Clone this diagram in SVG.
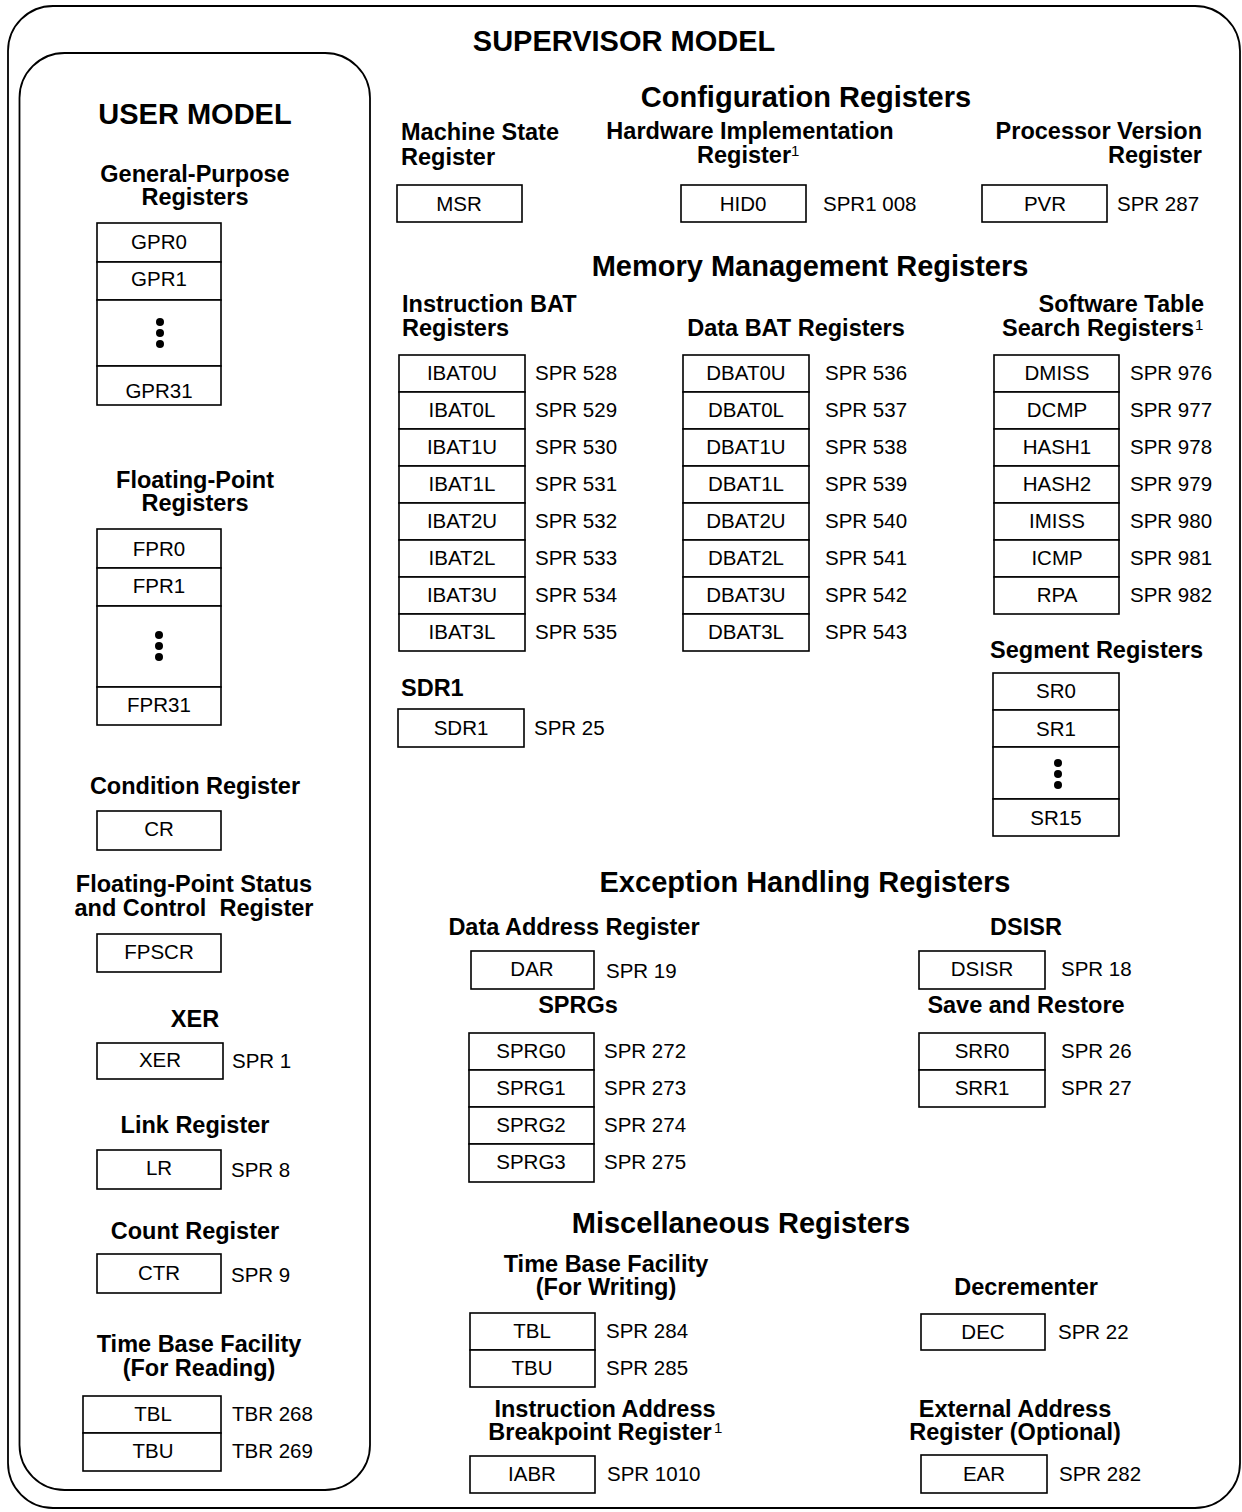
<svg xmlns="http://www.w3.org/2000/svg" width="1242" height="1512" viewBox="0 0 1242 1512">
<style>
text{font-family:"Liberation Sans",Arial,sans-serif;fill:#000}
.h1{font-size:29px;font-weight:bold;text-anchor:middle}
.h2{font-size:23.5px;font-weight:bold}
.c{text-anchor:middle}
.e{text-anchor:end}
.t{font-size:20.5px}
.tc{font-size:20.5px;text-anchor:middle}
.sup{font-size:15px}
.box{fill:#fff;stroke:#000;stroke-width:1.6}
.frame{fill:none;stroke:#000;stroke-width:1.8}
.pre{white-space:pre}
</style>
<defs>
<g id="dots"><circle cx="0" cy="-11" r="4"/><circle cx="0" cy="0" r="4"/><circle cx="0" cy="11" r="4"/></g>
</defs>
<rect width="1242" height="1512" fill="#fff"/>
<rect class="frame" x="8" y="6" width="1232" height="1502" rx="45" ry="45"/>
<rect class="frame" x="19.5" y="53" width="350.5" height="1437" rx="45" ry="45"/>
<text class="h1" x="624" y="51">SUPERVISOR MODEL</text>
<text class="h1" x="195" y="124">USER MODEL</text>
<g id="connectors"/>

<!-- USER MODEL -->
<g id="gpr">
<text class="h2 c" x="195" y="182">General-Purpose</text>
<text class="h2 c" x="195" y="205">Registers</text>
<rect class="box" x="97" y="223" width="124" height="39"/>
<rect class="box" x="97" y="262" width="124" height="38"/>
<rect class="box" x="97" y="300" width="124" height="66"/>
<rect class="box" x="97" y="366" width="124" height="39"/>
<text class="tc" x="159" y="249">GPR0</text>
<text class="tc" x="159" y="286">GPR1</text>
<use href="#dots" x="160" y="333"/>
<text class="tc" x="159" y="398">GPR31</text>
</g>
<g id="fpr">
<text class="h2 c" x="195" y="488">Floating-Point</text>
<text class="h2 c" x="195" y="511">Registers</text>
<rect class="box" x="97" y="529" width="124" height="39"/>
<rect class="box" x="97" y="568" width="124" height="38"/>
<rect class="box" x="97" y="606" width="124" height="81"/>
<rect class="box" x="97" y="687" width="124" height="38"/>
<text class="tc" x="159" y="556">FPR0</text>
<text class="tc" x="159" y="593">FPR1</text>
<use href="#dots" x="159" y="646"/>
<text class="tc" x="159" y="712">FPR31</text>
</g>
<g id="cr">
<text class="h2 c" x="195" y="794">Condition Register</text>
<rect class="box" x="97" y="811" width="124" height="39"/>
<text class="tc" x="159" y="836">CR</text>
</g>
<g id="fpscr">
<text class="h2 c" x="194" y="892">Floating-Point Status</text>
<text class="h2 c pre" x="194" y="916">and Control  Register</text>
<rect class="box" x="97" y="934" width="124" height="38"/>
<text class="tc" x="159" y="959">FPSCR</text>
</g>
<g id="xer">
<text class="h2 c" x="195" y="1027">XER</text>
<rect class="box" x="97" y="1043" width="126" height="36"/>
<text class="tc" x="160" y="1067">XER</text>
<text class="t" x="232" y="1068">SPR 1</text>
</g>
<g id="lr">
<text class="h2 c" x="195" y="1133">Link Register</text>
<rect class="box" x="97" y="1150" width="124" height="39"/>
<text class="tc" x="159" y="1175">LR</text>
<text class="t" x="231" y="1177">SPR 8</text>
</g>
<g id="ctr">
<text class="h2 c" x="195" y="1239">Count Register</text>
<rect class="box" x="97" y="1254" width="124" height="39"/>
<text class="tc" x="159" y="1280">CTR</text>
<text class="t" x="231" y="1282">SPR 9</text>
</g>
<g id="tb-read">
<text class="h2 c" x="199" y="1352">Time Base Facility</text>
<text class="h2 c" x="199" y="1376">(For Reading)</text>
<rect class="box" x="83" y="1396" width="138" height="37"/>
<rect class="box" x="83" y="1433" width="138" height="38"/>
<text class="tc" x="153" y="1421">TBL</text>
<text class="tc" x="153" y="1458">TBU</text>
<text class="t" x="232" y="1421">TBR 268</text>
<text class="t" x="232" y="1458">TBR 269</text>
</g>

<!-- CONFIGURATION -->
<text class="h1" x="806" y="107">Configuration Registers</text>
<g id="msr">
<text class="h2" x="401" y="140">Machine State</text>
<text class="h2" x="401" y="165">Register</text>
<rect class="box" x="397" y="185" width="125" height="37"/>
<text class="tc" x="459" y="211">MSR</text>
</g>
<g id="hid0">
<text class="h2 c" x="750" y="139">Hardware Implementation</text>
<text class="h2" x="697" y="163">Register</text>
<text class="sup" x="791" y="156">1</text>
<rect class="box" x="681" y="185" width="125" height="37"/>
<text class="tc" x="743" y="211">HID0</text>
<text class="t" x="823" y="211">SPR1 008</text>
</g>
<g id="pvr">
<text class="h2 e" x="1202" y="139">Processor Version</text>
<text class="h2 e" x="1202" y="163">Register</text>
<rect class="box" x="982" y="185" width="125" height="37"/>
<text class="tc" x="1045" y="211">PVR</text>
<text class="t" x="1117" y="211">SPR 287</text>
</g>

<!-- MEMORY MANAGEMENT -->
<text class="h1" x="810" y="276">Memory Management Registers</text>
<g id="ibat">
<text class="h2" x="402" y="312">Instruction BAT</text>
<text class="h2" x="402" y="336">Registers</text>
<rect class="box" x="399" y="355" width="126" height="37"/>
<rect class="box" x="399" y="392" width="126" height="37"/>
<rect class="box" x="399" y="429" width="126" height="37"/>
<rect class="box" x="399" y="466" width="126" height="37"/>
<rect class="box" x="399" y="503" width="126" height="37"/>
<rect class="box" x="399" y="540" width="126" height="37"/>
<rect class="box" x="399" y="577" width="126" height="37"/>
<rect class="box" x="399" y="614" width="126" height="37"/>
<text class="tc" x="462" y="380">IBAT0U</text>
<text class="tc" x="462" y="417">IBAT0L</text>
<text class="tc" x="462" y="454">IBAT1U</text>
<text class="tc" x="462" y="491">IBAT1L</text>
<text class="tc" x="462" y="528">IBAT2U</text>
<text class="tc" x="462" y="565">IBAT2L</text>
<text class="tc" x="462" y="602">IBAT3U</text>
<text class="tc" x="462" y="639">IBAT3L</text>
<text class="t" x="535" y="380">SPR 528</text>
<text class="t" x="535" y="417">SPR 529</text>
<text class="t" x="535" y="454">SPR 530</text>
<text class="t" x="535" y="491">SPR 531</text>
<text class="t" x="535" y="528">SPR 532</text>
<text class="t" x="535" y="565">SPR 533</text>
<text class="t" x="535" y="602">SPR 534</text>
<text class="t" x="535" y="639">SPR 535</text>
</g>
<g id="dbat">
<text class="h2 c" x="796" y="336">Data BAT Registers</text>
<rect class="box" x="683" y="355" width="126" height="37"/>
<rect class="box" x="683" y="392" width="126" height="37"/>
<rect class="box" x="683" y="429" width="126" height="37"/>
<rect class="box" x="683" y="466" width="126" height="37"/>
<rect class="box" x="683" y="503" width="126" height="37"/>
<rect class="box" x="683" y="540" width="126" height="37"/>
<rect class="box" x="683" y="577" width="126" height="37"/>
<rect class="box" x="683" y="614" width="126" height="37"/>
<text class="tc" x="746" y="380">DBAT0U</text>
<text class="tc" x="746" y="417">DBAT0L</text>
<text class="tc" x="746" y="454">DBAT1U</text>
<text class="tc" x="746" y="491">DBAT1L</text>
<text class="tc" x="746" y="528">DBAT2U</text>
<text class="tc" x="746" y="565">DBAT2L</text>
<text class="tc" x="746" y="602">DBAT3U</text>
<text class="tc" x="746" y="639">DBAT3L</text>
<text class="t" x="825" y="380">SPR 536</text>
<text class="t" x="825" y="417">SPR 537</text>
<text class="t" x="825" y="454">SPR 538</text>
<text class="t" x="825" y="491">SPR 539</text>
<text class="t" x="825" y="528">SPR 540</text>
<text class="t" x="825" y="565">SPR 541</text>
<text class="t" x="825" y="602">SPR 542</text>
<text class="t" x="825" y="639">SPR 543</text>
</g>
<g id="sts">
<text class="h2 e" x="1204" y="312">Software Table</text>
<text class="h2 e" x="1194" y="336">Search Registers</text>
<text class="sup" x="1195" y="330">1</text>
<rect class="box" x="994" y="355" width="125" height="37"/>
<rect class="box" x="994" y="392" width="125" height="37"/>
<rect class="box" x="994" y="429" width="125" height="37"/>
<rect class="box" x="994" y="466" width="125" height="37"/>
<rect class="box" x="994" y="503" width="125" height="37"/>
<rect class="box" x="994" y="540" width="125" height="37"/>
<rect class="box" x="994" y="577" width="125" height="37"/>
<text class="tc" x="1057" y="380">DMISS</text>
<text class="tc" x="1057" y="417">DCMP</text>
<text class="tc" x="1057" y="454">HASH1</text>
<text class="tc" x="1057" y="491">HASH2</text>
<text class="tc" x="1057" y="528">IMISS</text>
<text class="tc" x="1057" y="565">ICMP</text>
<text class="tc" x="1057" y="602">RPA</text>
<text class="t" x="1130" y="380">SPR 976</text>
<text class="t" x="1130" y="417">SPR 977</text>
<text class="t" x="1130" y="454">SPR 978</text>
<text class="t" x="1130" y="491">SPR 979</text>
<text class="t" x="1130" y="528">SPR 980</text>
<text class="t" x="1130" y="565">SPR 981</text>
<text class="t" x="1130" y="602">SPR 982</text>
</g>
<g id="sdr1">
<text class="h2" x="401" y="696">SDR1</text>
<rect class="box" x="398" y="709" width="126" height="38"/>
<text class="tc" x="461" y="735">SDR1</text>
<text class="t" x="534" y="735">SPR 25</text>
</g>
<g id="sr">
<text class="h2 e" x="1203" y="658">Segment Registers</text>
<rect class="box" x="993" y="673" width="126" height="37"/>
<rect class="box" x="993" y="710" width="126" height="37"/>
<rect class="box" x="993" y="747" width="126" height="52"/>
<rect class="box" x="993" y="799" width="126" height="37"/>
<text class="tc" x="1056" y="698">SR0</text>
<text class="tc" x="1056" y="736">SR1</text>
<use href="#dots" x="1058" y="774"/>
<text class="tc" x="1056" y="825">SR15</text>
</g>

<!-- EXCEPTION HANDLING -->
<text class="h1" x="805" y="892">Exception Handling Registers</text>
<g id="dar">
<text class="h2 c" x="574" y="935">Data Address Register</text>
<rect class="box" x="471" y="951" width="123" height="38"/>
<text class="tc" x="532" y="976">DAR</text>
<text class="t" x="606" y="978">SPR 19</text>
</g>
<g id="dsisr">
<text class="h2 c" x="1026" y="935">DSISR</text>
<rect class="box" x="919" y="951" width="126" height="38"/>
<text class="tc" x="982" y="976">DSISR</text>
<text class="t" x="1061" y="976">SPR 18</text>
</g>
<g id="sprg">
<text class="h2 c" x="578" y="1013">SPRGs</text>
<rect class="box" x="469" y="1033" width="125" height="37"/>
<rect class="box" x="469" y="1070" width="125" height="37"/>
<rect class="box" x="469" y="1107" width="125" height="37"/>
<rect class="box" x="469" y="1144" width="125" height="38"/>
<text class="tc" x="531" y="1058">SPRG0</text>
<text class="tc" x="531" y="1095">SPRG1</text>
<text class="tc" x="531" y="1132">SPRG2</text>
<text class="tc" x="531" y="1169">SPRG3</text>
<text class="t" x="604" y="1058">SPR 272</text>
<text class="t" x="604" y="1095">SPR 273</text>
<text class="t" x="604" y="1132">SPR 274</text>
<text class="t" x="604" y="1169">SPR 275</text>
</g>
<g id="srr">
<text class="h2 c" x="1026" y="1013">Save and Restore</text>
<rect class="box" x="919" y="1033" width="126" height="37"/>
<rect class="box" x="919" y="1070" width="126" height="37"/>
<text class="tc" x="982" y="1058">SRR0</text>
<text class="tc" x="982" y="1095">SRR1</text>
<text class="t" x="1061" y="1058">SPR 26</text>
<text class="t" x="1061" y="1095">SPR 27</text>
</g>

<!-- MISCELLANEOUS -->
<text class="h1" x="741" y="1233">Miscellaneous Registers</text>
<g id="tb-write">
<text class="h2 c" x="606" y="1272">Time Base Facility</text>
<text class="h2 c" x="606" y="1295">(For Writing)</text>
<rect class="box" x="470" y="1313" width="125" height="37"/>
<rect class="box" x="470" y="1350" width="125" height="37"/>
<text class="tc" x="532" y="1338">TBL</text>
<text class="tc" x="532" y="1375">TBU</text>
<text class="t" x="606" y="1338">SPR 284</text>
<text class="t" x="606" y="1375">SPR 285</text>
</g>
<g id="dec">
<text class="h2 c" x="1026" y="1295">Decrementer</text>
<rect class="box" x="921" y="1314" width="124" height="36"/>
<text class="tc" x="983" y="1339">DEC</text>
<text class="t" x="1058" y="1339">SPR 22</text>
</g>
<g id="iabr">
<text class="h2 c" x="605" y="1417">Instruction Address</text>
<text class="h2 c" x="600" y="1440">Breakpoint Register</text>
<text class="sup" x="714" y="1433">1</text>
<rect class="box" x="470" y="1456" width="125" height="37"/>
<text class="tc" x="532" y="1481">IABR</text>
<text class="t" x="607" y="1481">SPR 1010</text>
</g>
<g id="ear">
<text class="h2 c" x="1015" y="1417">External Address</text>
<text class="h2 c" x="1015" y="1440">Register (Optional)</text>
<rect class="box" x="921" y="1455" width="126" height="38"/>
<text class="tc" x="984" y="1481">EAR</text>
<text class="t" x="1059" y="1481">SPR 282</text>
</g>
</svg>
